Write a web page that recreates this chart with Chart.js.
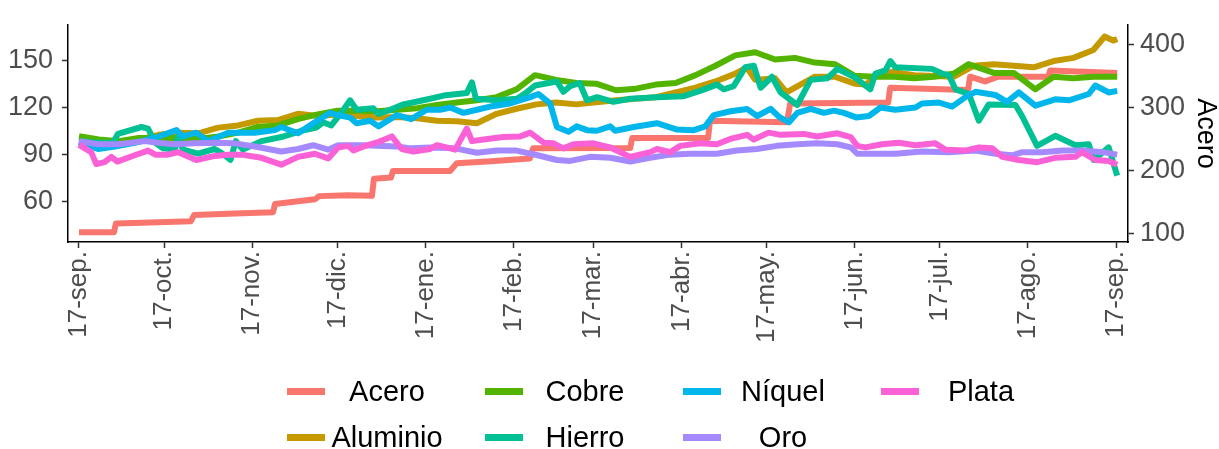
<!DOCTYPE html>
<html>
<head>
<meta charset="utf-8">
<script src="https://cdn.jsdelivr.net/npm/chart.js@4"></script>
<style>
  html, body { margin: 0; padding: 0; background: #fff; }
  #wrap { position: relative; width: 1219px; height: 449px; }
  #leyenda { position: absolute; left: 0; top: 0; width: 1219px; height: 449px; pointer-events: none;
             font-family: "Liberation Sans", Arial, sans-serif; }
  .clave { position: absolute; width: 38px; height: 7px; }
  .texto { position: absolute; font-size: 29px; line-height: 1; color: #000; white-space: nowrap;
           transform: translate(-50%, -50%); }
</style>
</head>
<body>
<div id="wrap">
  <canvas id="grafico" width="1219" height="449"></canvas>
  <div id="leyenda"></div>
</div>
<script>
// dias desde el 17-sep. (eje x) y valores
const marcasDias = [0, 30, 61, 91, 122, 153, 181, 212, 242, 273, 303, 334, 365];
const etiquetasMes = ['17-sep.', '17-oct.', '17-nov.', '17-dic.', '17-ene.', '17-feb.', '17-mar.',
                      '17-abr.', '17-may.', '17-jun.', '17-jul.', '17-ago.', '17-sep.'];
const marcasIzq = [60, 90, 120, 150];
const marcasDer = [100, 200, 300, 400];

const metales = ['Acero', 'Aluminio', 'Cobre', 'Hierro', 'Níquel', 'Oro', 'Plata'];
const colores = ['#F8766D', '#C49A00', '#53B400', '#00C094', '#00B6EB', '#A58AFF', '#FB61D7'];

// Acero va en el eje derecho
const aceroDias = [0, 12.3, 13, 25, 39.4, 40.5, 55, 68.3, 69, 83.1, 84.5, 94.7, 103.1, 103.8, 109.8, 110.5,
  130.6, 133, 145, 158.7, 159.8, 194, 194.7, 221.4, 222.1, 249.2, 250.3, 284.8, 285.5, 312.9, 313.6,
  318.9, 323.5, 341.1, 341.8, 365.4];
const aceroValores = [102, 102, 116, 117.5, 119.5, 129.5, 132, 134, 147, 154.5, 159.5, 161, 160, 187, 189, 199.5,
  199.5, 212, 215, 219.5, 235.5, 236, 252, 252, 279.5, 277, 307, 308.5, 332, 328.5, 349.5,
  342, 349.5, 349.5, 359.5, 355.5];

const aluminioDias = [0, 7, 14, 21, 28, 35, 42, 49, 56, 63, 70, 77, 84, 91, 98, 105, 112, 119, 126, 133, 140,
  147, 154, 161, 168, 175, 182, 189, 196, 203, 210, 217, 224, 231, 235, 238, 245, 249, 252, 259, 266, 273,
  277, 280, 286, 294, 301, 308, 315, 322, 329, 336, 343, 350, 357, 361, 364, 365.4];
const aluminioValores = [100, 98.4, 97.4, 99.4, 102.4, 103.8, 103.4, 107, 108.4, 111.4, 111.8, 115.8, 114.4,
  115.4, 114.4, 113.4, 113.8, 113, 111.4, 111, 109.8, 115.8, 119, 121.8, 123, 121.8, 123.2, 124.4, 125.4,
  126.4, 129.4, 132.4, 136.4, 141.4, 145.4, 137.4, 138.4, 129.4, 132.4, 139.4, 139.4, 135, 134.4, 139.4,
  142.4, 140.4, 139.8, 139.4, 146.4, 147.4, 146.4, 145.4, 149.4, 151.4, 156.4, 165, 162.4, 163.4];

const cobreDias = [0, 7, 14, 21, 28, 35, 42, 49, 56, 63, 70, 77, 84, 91, 98, 105, 112, 119, 126, 133, 140,
  147, 154, 160.5, 168, 175, 182, 189, 196, 203, 210, 217, 224, 231, 238, 245, 252, 259, 266, 273, 280,
  287, 294, 301, 308, 313, 322, 329, 336.6, 343, 350, 357, 364, 365.4];
const cobreValores = [101.5, 99.4, 98.4, 100.4, 100.4, 100.4, 99.8, 101.4, 103.8, 107.4, 108.4, 112.4, 115.4,
  117.8, 117.8, 117.4, 118.4, 119.4, 121.4, 123, 124.4, 126.4, 131.4, 140.4, 137.4, 135.4, 135, 130.8,
  131.8, 134.4, 135.4, 140.4, 146.4, 153, 155, 150.4, 151.4, 148.4, 147.4, 140, 139.4, 139.4, 138.4,
  139.4, 141.4, 147.4, 141.8, 141.8, 131.4, 139.4, 138.4, 139.4, 139.4, 139.4];

const hierroDias = [0, 6.7, 12, 13.7, 22, 24.3, 26.9, 29.6, 33.7, 34.9, 36.6, 41.9, 47.8, 50.1, 53.3, 55.2,
  57.7, 64.2, 71.2, 78.3, 83.5, 85.9, 88.8, 92.3, 95.4, 97.7, 103.5, 105.4, 109.5, 114.2, 119.5, 123.6,
  128.3, 136.5, 138.3, 139.7, 147.1, 154.1, 157.5, 160.5, 168.2, 170.5, 172.9, 176.2, 178.8, 182.3, 188.1,
  194, 203.4, 212.8, 218.6, 224.5, 226.9, 230.4, 234.5, 237.5, 239.9, 243.9, 246.9, 252.8, 257.5, 263.4,
  266.9, 272.7, 278.5, 280.3, 283.8, 285.6, 287.3, 300.2, 303.8, 306.1, 308.5, 313.2, 316.7, 320.2, 329.6,
  331.9, 337.2, 343.6, 350.7, 355.4, 357.1, 362.4, 365.4];
const hierroValores = [98.4, 97.4, 97.4, 103, 107.4, 106.4, 97.4, 93.8, 93, 101.4, 93, 90.4, 93.4, 91, 86.4, 98.4,
  93, 98.4, 101, 105, 107, 110.4, 108.4, 116.4, 124.4, 118.4, 119.4, 115.8, 118.4, 121.8, 123.8, 125.4,
  127.4, 129, 135.8, 125.4, 124.4, 125.4, 129.4, 133.8, 136.4, 129.8, 133.4, 135.4, 124.4, 126.4, 123.4,
  125.4, 126.4, 127, 130.4, 134.4, 131.4, 133.4, 145.4, 146.4, 132.4, 139.4, 129.4, 121.4, 137.4, 138.4,
  144.4, 139.4, 131.4, 141.4, 143.4, 149.4, 145.4, 144.4, 141.4, 140.4, 131.4, 128.4, 111.4, 121.8, 121.4,
  114.4, 95.4, 101.8, 95.8, 96.4, 86.4, 94.4, 76.4];

const niquelDias = [0, 6.7, 12.6, 19.6, 26.6, 34.3, 36.6, 41.3, 45.4, 52.5, 61.9, 68.9, 71.2, 77.1, 83, 88.4,
  90, 95.4, 97.7, 102.5, 105.4, 111.9, 116.9, 122.4, 127.1, 130.7, 135.3, 140, 144.7, 151.7, 158.8, 161.7,
  165.8, 168.2, 172.3, 175.2, 178.8, 182.3, 187, 188.7, 195.2, 203.4, 210.5, 216.4, 220.4, 223.4, 229.3,
  235.2, 238.7, 243.4, 246.4, 249.9, 252.8, 257.5, 262.2, 265.7, 269.2, 273.5, 278, 282.1, 287.3, 294.4,
  296.7, 302.6, 307.3, 312, 315.5, 322.5, 326.6, 330.8, 336.6, 343.6, 348.4, 355.4, 357.7, 362.4, 365.4];
const niquelValores = [97.8, 93.4, 95, 97.4, 100.4, 105.4, 101.4, 103.8, 98.4, 103.8, 103.8, 105.4, 107.4, 103.4,
  110.4, 116.4, 115.4, 113.4, 109.8, 111.4, 107.8, 115, 112.4, 118.4, 118.4, 119.8, 116.4, 118.4, 120.4,
  122.4, 126.4, 128.4, 122.4, 107.4, 104.4, 107.8, 105.4, 105, 107.8, 105, 107.4, 109.8, 105.8, 105.4,
  107.8, 115, 117.4, 118.8, 114.4, 119, 113.8, 110.4, 116.4, 119, 116.4, 117.8, 116.4, 113.5, 114.4,
  119.8, 118.4, 119.8, 122.4, 123, 120.4, 126.4, 129.8, 127.8, 123.4, 129.4, 121, 125, 124.4, 128.4,
  133.8, 129.4, 130.4];

const oroDias = [0, 6.7, 13.7, 23.1, 27.8, 33.7, 40.7, 47.8, 54.8, 61.9, 66.5, 71.2, 77.1, 82.4, 87.7, 91.2,
  100.1, 111.9, 116.9, 123.6, 132.4, 140, 147.1, 154.1, 161.4, 168.2, 172.9, 179.9, 187, 194, 201, 208.1,
  215.1, 224.5, 231.5, 238.6, 245.6, 252.8, 259.8, 266.9, 271.6, 273.9, 280.3, 287.3, 296.7, 306.1, 315.5,
  322.5, 328.4, 332, 339, 346.2, 353.3, 360.3, 365.4];
const oroValores = [98.4, 96.4, 96.4, 98.4, 97.4, 96.4, 97, 97.4, 97, 95, 93.4, 91.8, 93.4, 95.8, 93, 95.8,
  95.8, 95, 93.8, 94.4, 93.8, 91, 92.4, 92.4, 89.4, 86.4, 85.8, 88.4, 87.8, 85.4, 87.8, 89.8,
  90.4, 90.4, 92.4, 93.4, 95.4, 96.4, 97, 96.4, 94.4, 90.4, 90.4, 90.4, 91.8, 91.4, 92.4,
  90.4, 89.4, 91.4, 91.4, 92.4, 92.4, 91.4, 89.8];

const plataDias = [0, 4.3, 6.1, 9, 11.4, 13.5, 19.6, 24.3, 26.9, 31.3, 34.9, 41.3, 47.8, 52.5, 57.2, 64.2,
  71.2, 77.1, 83, 87.7, 91.2, 94.7, 96.6, 100.2, 104.6, 110.1, 113.6, 117.7, 123.6, 126, 129.3, 132.4,
  136.5, 138.3, 142.4, 149.4, 155.3, 158.8, 163.5, 167, 170.5, 174, 181.1, 184.6, 187, 194, 201, 203.4,
  208.1, 211.6, 218.6, 224.5, 229.2, 235.2, 237.5, 242.7, 246.9, 255.1, 259.8, 266.9, 271.6, 273.9,
  276.8, 282.6, 288.5, 294.4, 301.4, 304.9, 312, 316.7, 321.4, 325, 330.8, 337.2, 343.6, 350.7, 353,
  357.7, 362.4, 365.4];
const plataValores = [96, 91.4, 83.8, 85, 88.4, 85.4, 89.4, 92.4, 89.8, 89.8, 91.4, 86.4, 89, 89.8, 89.8, 87.8,
  83.4, 88.4, 90.4, 87.4, 94.4, 95.4, 92.4, 95, 97.4, 101.4, 93.4, 91.8, 93.4, 95.8, 94.4, 93,
  106.4, 98.4, 99.4, 101, 101.4, 103.8, 97.4, 97, 93.8, 96.4, 97, 95.4, 94.4, 88.4, 91.4, 93.4,
  91.4, 95.4, 97, 96.4, 99.8, 102.4, 99.4, 103.8, 102.4, 103, 101.4, 103.4, 101, 95.4,
  94.4, 96.4, 97.4, 95.8, 97, 93, 92.4, 94.4, 93.8, 88.4, 86.4, 85, 87.8, 88.4, 91.4,
  86.4, 85.8, 83.4];

const diasPorMetal = [aceroDias, aluminioDias, cobreDias, hierroDias, niquelDias, oroDias, plataDias];
const valoresPorMetal = [aceroValores, aluminioValores, cobreValores, hierroValores, niquelValores, oroValores, plataValores];

const fuente = '"Liberation Sans", Arial, sans-serif';

const datasets = metales.map((nombre, i) => ({
  label: nombre,
  data: diasPorMetal[i].map((d, j) => ({ x: d, y: valoresPorMetal[i][j] })),
  borderColor: colores[i],
  backgroundColor: colores[i],
  borderWidth: 6,
  borderJoinStyle: 'round',
  pointRadius: 0,
  tension: 0,
  yAxisID: nombre === 'Acero' ? 'y2' : 'y',
  order: metales.length - i   // ultimo en la lista queda encima
}));

function ejeY(posicion, min, max, marcas, ancho) {
  return {
    position: posicion,
    min: min,
    max: max,
    afterBuildTicks: s => { s.ticks = marcas.map(v => ({ value: v })); },
    afterFit: s => { s.width = ancho; },
    ticks: { color: '#4d4d4d', padding: posicion === 'left' ? 9 : 6, font: { family: fuente, size: 27 } },
    grid: { drawOnChartArea: false, tickLength: 6, tickColor: '#333', tickWidth: 1.5 },
    border: { color: '#000', width: 1.5 }
  };
}

const ejeDer = ejeY('right', 86.5, 431.5, marcasDer, 91);
ejeDer.title = { display: true, text: 'Acero', color: '#000', padding: 0, font: { family: fuente, size: 27, lineHeight: 1 } };

new Chart(document.getElementById('grafico'), {
  type: 'line',
  data: { datasets: datasets },
  options: {
    responsive: false,
    animation: false,
    layout: { padding: { top: 12, left: 0, right: 0, bottom: 0 } },
    plugins: { legend: { display: false }, tooltip: { enabled: false } },
    scales: {
      x: {
        type: 'linear',
        min: -3.87,
        max: 369.2,
        afterBuildTicks: s => { s.ticks = marcasDias.map(v => ({ value: v })); },
        afterFit: s => { s.height = 207; },
        ticks: {
          autoSkip: false, minRotation: 90, maxRotation: 90, padding: 3, color: '#4d4d4d',
          font: { family: fuente, size: 26 },
          callback: v => etiquetasMes[marcasDias.indexOf(v)]
        },
        grid: { drawOnChartArea: false, tickLength: 6, tickColor: '#333', tickWidth: 1.5 },
        border: { color: '#000', width: 1.5 }
      },
      y: ejeY('left', 34.2, 172.2, marcasIzq, 68),
      y2: ejeDer
    }
  }
});

// leyenda en 4 columnas, rellenada por columnas como en el original
const leyenda = document.getElementById('leyenda');
metales.forEach((nombre, i) => {
  const col = Math.floor(i / 2), fila = i % 2;
  const x = 287 + 198 * col, y = 391 + 46 * fila;
  const clave = document.createElement('div');
  clave.className = 'clave';
  clave.style.left = x + 'px';
  clave.style.top = (y - 3.5) + 'px';
  clave.style.background = colores[i];
  leyenda.appendChild(clave);
  const texto = document.createElement('div');
  texto.className = 'texto';
  texto.textContent = nombre;
  texto.style.left = (x + 100) + 'px';
  texto.style.top = y + 'px';
  leyenda.appendChild(texto);
});
</script>
</body>
</html>
